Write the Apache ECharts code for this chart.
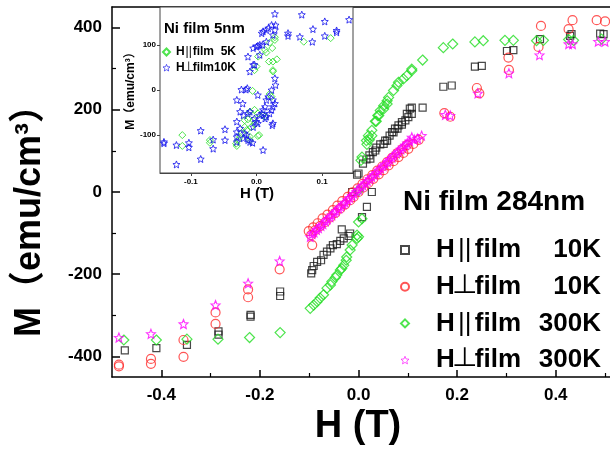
<!DOCTYPE html>
<html><head><meta charset="utf-8">
<script src="https://cdn.jsdelivr.net/npm/echarts@6/dist/echarts.min.js"></script>
<style>html,body{margin:0;padding:0;background:#fff}#c{width:610px;height:451px}</style>
</head><body><div id="c"></div>
<script>
// ---- main plot tick values ----
const xMajor = [-0.4, -0.2, 0.0, 0.2, 0.4];
const xMinor = [-0.3, -0.1, 0.1, 0.3, 0.5];
const yMajor = [-400, -200, 0, 200, 400];
const yMinor = [-300, -100, 100, 300];
// ---- inset tick values ----
const insetXTicks = [-0.1, 0.0, 0.1];
const insetYTicks = [-100, 0, 100];

// ---- Ni film 284nm : H|| film 10K ----
const par10K_H = [-0.474,-0.410,-0.348,-0.284,-0.284,-0.219,-0.219,-0.159,-0.159,
  -0.096,-0.094,-0.091,-0.084,-0.076,-0.071,-0.064,-0.057,-0.052,-0.044,-0.037,-0.030,-0.020,-0.017,-0.034,
  -0.013,-0.003,0.007,0.017,0.027,
  0.009,0.016,0.022,0.029,0.036,0.044,0.054,0.063,0.071,0.079,0.088,0.095,0.101,0.108,0.108,0.130,
  0.104,0.098,0.088,0.081,0.074,0.068,0.058,0.051,0.034,0.024,0.000,
  0.172,0.189,0.236,0.250,0.301,0.314,0.368,0.429,0.432,0.490,0.497];
const par10K_M = [-385,-380,-372,-339,-347,-299,-303,-242,-253,
  -198,-190,-180,-170,-166,-153,-145,-137,-129,-127,-119,-113,-107,-101,-91,
  0,42,-61,-36,0,
  69,79,89,97,108,116,125,137,145,154,164,174,182,190,205,205,
  203,190,170,162,154,146,125,117,101,81,45,
  256,259,305,307,343,345,372,380,384,385,384];

// ---- H⊥ film 10K ----
const perp10K_H = [-0.486,-0.486,-0.421,-0.421,-0.355,-0.355,-0.290,-0.290,-0.224,-0.224,-0.160,
  -0.094,-0.096,-0.088,-0.078,-0.067,-0.057,-0.047,-0.037,-0.027,-0.017,-0.010,0.000,0.010,0.020,0.030,0.041,0.051,0.061,0.071,0.081,0.091,0.101,0.111,0.122,
  -0.101,-0.092,-0.083,-0.073,-0.063,-0.052,-0.043,-0.033,-0.022,-0.012,-0.002,0.008,0.018,0.028,0.038,0.048,0.058,0.068,0.078,0.088,0.098,
  0.174,0.186,0.240,0.245,0.304,0.305,0.365,0.370,0.426,0.434,0.483,0.500];
const perp10K_M = [-420,-424,-406,-418,-401,-360,-293,-321,-237,-256,-188,
  -129,-105,-93,-83,-73,-62,-51,-40,-30,-20,-12,0,11,22,32,43,53,65,75,85,95,105,117,127,
  -95,-86,-76,-64,-55,-44,-33,-22,-12,-1,9,20,31,41,52,62,73,83,94,104,114,
  192,183,253,240,327,297,353,404,396,418,418,415];

// ---- H|| film 300K ----
const par300K_H = [-0.476,-0.410,-0.348,-0.285,-0.221,-0.159,
  -0.098,-0.091,-0.084,-0.078,-0.071,-0.064,-0.057,-0.054,-0.047,-0.044,-0.037,-0.034,-0.030,-0.025,-0.024,-0.017,-0.013,-0.003,0.000,-0.003,0.000,0.007,0.000,
  0.005,0.007,0.016,0.017,0.020,0.022,0.027,0.027,0.034,0.036,0.039,0.041,0.044,0.051,0.051,0.058,0.058,0.061,0.071,0.078,0.081,0.091,0.098,0.108,0.108,0.130,
  0.172,0.191,0.236,0.253,0.297,0.314,0.361,0.375,0.426,0.436,0.493];
const par300K_M = [-360,-360,-358,-358,-354,-342,
  -283,-275,-267,-258,-250,-234,-226,-218,-208,-202,-190,-186,-178,-166,-158,-141,-129,-113,-109,-105,-73,-65,4,
  77,85,125,116,137,127,150,137,172,172,186,186,198,202,210,214,222,230,247,259,267,275,283,295,299,321,
  351,360,365,368,369,369,368,369,371,369,372];

// ---- H⊥ film 300K ----
const perp300K_H = [-0.486,-0.421,-0.355,-0.290,-0.224,-0.160,
  -0.098,-0.090,-0.081,-0.072,-0.063,-0.054,-0.045,-0.036,-0.027,-0.018,-0.009,0.000,0.009,0.018,0.027,0.036,0.045,0.054,0.063,0.072,0.081,0.090,0.099,0.108,0.120,0.128,
  -0.094,-0.085,-0.076,-0.067,-0.058,-0.049,-0.040,-0.031,-0.022,-0.013,-0.004,0.005,0.014,0.023,0.032,0.041,0.050,0.059,0.068,0.077,0.086,0.095,0.104,0.113,
  0.176,0.186,0.242,0.305,0.367,0.426,0.434,0.486,0.500];
const perp300K_M = [-354,-345,-321,-275,-222,-168,
  -109,-98,-88,-78,-66,-56,-46,-35,-25,-14,-4,6,16,27,37,47,58,68,79,89,99,109,119,133,130,137,
  -102,-92,-82,-71,-61,-50,-40,-30,-19,-9,1,12,22,32,42,53,63,73,84,94,104,114,124,128,
  188,186,240,289,333,360,360,366,366];

// ---- inset: Ni film 5nm, H|| film 5K ----
const inPar5K_H = [-0.113,-0.113,-0.071,-0.071,-0.030,-0.031,-0.028,-0.025,-0.023,-0.015,
  -0.018,-0.008,-0.003,-0.005,-0.018,-0.013,-0.010,-0.010,-0.010,0.002,
  0.004,0.010,0.013,-0.003,0.002,0.020,0.023,-0.006,-0.003,0.000,
  0.0025,0.025,0.025,0.031,0.025,0.019,0.013,0.015,0.024,0.020,
  0.028,0.028,0.072,0.113];
const inPar5K_M = [-100,-124,-111,-117,-124,-119,-111,-104,-96,-89,
  -82,-82,-76,-67,-67,-65,-48,-104,-111,-102,
  -100,-56,-59,-44,-52,-9,-15,-2,44,52,
  74,44,41,68,63,63,89,83,93,105,
  117,111,107,115];

// ---- inset: H⊥ film 10K ----
const inPerp10K_H = [-0.141,-0.141,-0.122,-0.122,-0.103,-0.103,-0.085,-0.085,-0.066,-0.066,
  -0.048,-0.048,-0.030,-0.030,-0.030,-0.030,-0.030,-0.025,-0.025,-0.023,
  -0.016,-0.014,-0.021,-0.020,-0.013,-0.010,-0.018,-0.015,-0.020,-0.013,
  -0.010,-0.006,-0.003,0.000,0.002,-0.005,-0.013,-0.010,-0.005,-0.003,
  -0.005,0.000,0.002,0.005,0.008,0.010,0.015,0.018,0.009,0.005,
  0.015,0.023,0.025,0.028,0.029,0.028,0.028,0.029,0.010,0.069,
  0.066,0.086,0.085,0.048,0.048,0.104,0.104,0.122,0.122,0.141,
  0.023,0.025,0.018,0.015,0.013,0.010,0.008,0.005,0.013,0.015,
  0.020,0.023,0.025,0.028,0.025,0.024,0.002];
const inPerp10K_M = [-115,-118,-122,-165,-117,-127,-90,-153,-110,-130,
  -87,-111,-22,-70,-93,-104,-115,-48,-85,1,
  1,4,-30,-56,-52,-48,-96,-100,-107,-111,
  -115,-117,-63,-70,-74,-82,74,41,56,56,
  93,96,98,100,126,130,133,137,100,78,
  107,144,122,133,144,169,26,11,-133,167,
  118,135,107,126,120,152,120,132,128,156,
  0,-22,-15,-22,-37,-44,-52,-56,-63,-59,
  -52,-44,-37,-30,-74,-78,-11];

const F = "'Liberation Sans', Arial, 'Noto Sans CJK SC', 'DejaVu Sans', sans-serif";
const STAR = 'path://M100,0L126.5,63.6L195.1,69.1L142.8,113.9L158.8,180.9L100,145L41.2,180.9L57.2,113.9L4.9,69.1L73.5,63.6Z';
const pts = (h, m) => h.map((x, i) => [x, m[i]]);
const hollow = (c, w) => ({ color: 'rgba(0,0,0,0)', borderColor: c, borderWidth: w });

const legendParts = {
  par10K: ['||', '10K'], perp10K: ['\u22A5', '10K'],
  par300K: ['||', '300K'], perp300K: ['\u22A5', '300K'],
  inPar5K: ['||', '5K'], inPerp10K: ['\u22A5', '10K']
};
const fmt = name => { const p = legendParts[name]; return '{s|}{h|H}{p|' + p[0] + '}{f|film}{t|' + p[1] + '}'; };

const axisBase = (grid, min, max) => ({ gridIndex: grid, type: 'value', min: min, max: max, splitLine: { show: false } });
const blackLine = { show: true, onZero: false, lineStyle: { color: '#000', width: 1.5 } };

const chart = echarts.init(document.getElementById('c'), null, { renderer: 'canvas' });
chart.setOption({
  animation: false,
  backgroundColor: '#fff',
  grid: [
    { left: 112, top: 7, right: 0, bottom: 74, show: false },
    { left: 160, top: 7, width: 193, height: 166, show: true, backgroundColor: '#fff', borderColor: '#444', borderWidth: 1, z: 1 }
  ],
  xAxis: [
    Object.assign(axisBase(0, -0.5, 0.51), { interval: 0.1, position: 'bottom', axisLine: blackLine,
      axisTick: { show: true, inside: true, length: 7, customValues: xMajor, lineStyle: { color: '#000', width: 1.5 } },
      axisLabel: { customValues: xMajor, formatter: v => v.toFixed(1), fontSize: 17, fontWeight: 'bold', color: '#000', fontFamily: F, margin: 10 } }),
    Object.assign(axisBase(0, -0.5, 0.51), { interval: 0.1, position: 'bottom', axisLine: { show: false, onZero: false },
      axisTick: { show: true, inside: true, length: 4, customValues: xMinor, lineStyle: { color: '#000', width: 1.2 } },
      axisLabel: { show: false } }),
    Object.assign(axisBase(0, -0.5, 0.51), { interval: 0.1, position: 'top', axisLine: blackLine,
      axisTick: { show: false }, axisLabel: { show: false } }),
    Object.assign(axisBase(1, -0.147, 0.147), { position: 'bottom', axisLine: { show: true, onZero: false, lineStyle: { color: '#444', width: 1 } },
      axisTick: { show: true, inside: false, length: 3, customValues: insetXTicks, lineStyle: { color: '#444' } },
      axisLabel: { customValues: insetXTicks, formatter: v => v.toFixed(1), fontSize: 8, fontWeight: 'bold', color: '#000', fontFamily: F, margin: 5 } })
  ],
  yAxis: [
    Object.assign(axisBase(0, -450, 450), { interval: 50, position: 'left', axisLine: blackLine,
      axisTick: { show: true, inside: true, length: 8, customValues: yMajor, lineStyle: { color: '#000', width: 1.5 } },
      axisLabel: { customValues: yMajor, fontSize: 17, fontWeight: 'bold', color: '#000', fontFamily: F, margin: 10 } }),
    Object.assign(axisBase(0, -450, 450), { interval: 50, position: 'left', axisLine: { show: false, onZero: false },
      axisTick: { show: true, inside: true, length: 4, customValues: yMinor, lineStyle: { color: '#000', width: 1.2 } },
      axisLabel: { show: false } }),
    Object.assign(axisBase(1, -184, 184), { position: 'left', axisLine: { show: true, onZero: false, lineStyle: { color: '#444', width: 1 } },
      axisTick: { show: true, inside: false, length: 3, customValues: insetYTicks, lineStyle: { color: '#444' } },
      axisLabel: { customValues: insetYTicks, fontSize: 8, fontWeight: 'bold', color: '#000', fontFamily: F, margin: 4 } })
  ],
  legend: [
    { data: ['par10K', 'perp10K', 'par300K',
        { name: 'perp300K', itemStyle: { color: 'rgba(0,0,0,0)', borderColor: '#ff00ff', borderWidth: 0.8 } }],
      orient: 'vertical', left: 395, top: 232,
      itemWidth: 8, itemHeight: 8, itemGap: 10.7, selectedMode: false, formatter: fmt,
      textStyle: { color: '#000', fontFamily: F, fontSize: 26, fontWeight: 'bold',
        rich: {
          s: { width: 22 },
          h: { fontSize: 26, fontWeight: 'bold', fontFamily: F },
          p: { fontSize: 26, fontWeight: 'normal', fontFamily: F, width: 20, align: 'center' },
          f: { fontSize: 26, fontWeight: 'bold', fontFamily: F },
          t: { fontSize: 26, fontWeight: 'bold', fontFamily: F, width: 80, align: 'right' }
        } } },
    { data: ['inPar5K',
        { name: 'inPerp10K', itemStyle: { color: 'rgba(0,0,0,0)', borderColor: '#1010ee', borderWidth: 0.8 } }],
      orient: 'vertical', left: 157, top: 41,
      itemWidth: 7, itemHeight: 7, itemGap: 3.7, selectedMode: false, formatter: fmt,
      textStyle: { color: '#000', fontFamily: F, fontSize: 12, fontWeight: 'bold',
        rich: {
          s: { width: 1 },
          h: { fontSize: 12, fontWeight: 'bold', fontFamily: F },
          p: { fontSize: 12, fontWeight: 'normal', fontFamily: F, width: 8, align: 'center' },
          f: { fontSize: 12, fontWeight: 'bold', fontFamily: F },
          t: { fontSize: 12, fontWeight: 'bold', fontFamily: F, width: 22, align: 'right' }
        } } }
  ],
  series: [
    { name: 'par10K', type: 'scatter', xAxisIndex: 0, yAxisIndex: 0, symbol: 'rect', symbolSize: 7,
      itemStyle: hollow('#1a1a1a', 1.2), data: pts(par10K_H, par10K_M) },
    { name: 'perp10K', type: 'scatter', xAxisIndex: 0, yAxisIndex: 0, symbol: 'circle', symbolSize: 9,
      itemStyle: hollow('#ff2a2a', 1.2), data: pts(perp10K_H, perp10K_M) },
    { name: 'par300K', type: 'scatter', xAxisIndex: 0, yAxisIndex: 0, symbol: 'diamond', symbolSize: 10,
      itemStyle: hollow('#22dd22', 1.2), data: pts(par300K_H, par300K_M) },
    { name: 'perp300K', type: 'scatter', xAxisIndex: 0, yAxisIndex: 0, symbol: STAR, symbolSize: 9,
      itemStyle: hollow('#ff00ff', 1.1), data: pts(perp300K_H, perp300K_M) },
    { name: 'inPar5K', type: 'scatter', xAxisIndex: 3, yAxisIndex: 2, symbol: 'diamond', symbolSize: 7, z: 3,
      itemStyle: hollow('#22dd22', 1), data: pts(inPar5K_H, inPar5K_M) },
    { name: 'inPerp10K', type: 'scatter', xAxisIndex: 3, yAxisIndex: 2, symbol: STAR, symbolSize: 7, z: 3,
      itemStyle: hollow('#1010ee', 1), data: pts(inPerp10K_H, inPerp10K_M) }
  ],
  graphic: [
    { type: 'text', x: 403, y: 202, style: { text: 'Ni film 284nm', font: 'bold 28px ' + F, fill: '#000', textAlign: 'left', align: 'left', textVerticalAlign: 'middle', verticalAlign: 'middle' } },
    { type: 'text', x: 358, y: 427, style: { text: 'H (T)', font: 'bold 38px ' + F, fill: '#000', textAlign: 'center', align: 'center', textVerticalAlign: 'middle', verticalAlign: 'middle' } },
    { type: 'text', x: 30, y: 212, rotation: Math.PI / 2, style: { text: 'M（emu/cm³）', font: 'bold 36px ' + F, fill: '#000', textAlign: 'center', align: 'center', textVerticalAlign: 'middle', verticalAlign: 'middle' } },
    { type: 'text', x: 164, y: 29, z: 10, style: { text: 'Ni film 5nm', font: 'bold 15px ' + F, fill: '#000', textAlign: 'left', align: 'left', textVerticalAlign: 'middle', verticalAlign: 'middle' } },
    { type: 'text', x: 257, y: 194, style: { text: 'H (T)', font: 'bold 15px ' + F, fill: '#000', textAlign: 'center', align: 'center', textVerticalAlign: 'middle', verticalAlign: 'middle' } },
    { type: 'text', x: 131, y: 88, rotation: Math.PI / 2, style: { text: 'M（emu/cm³）', font: 'bold 12px ' + F, fill: '#000', textAlign: 'center', align: 'center', textVerticalAlign: 'middle', verticalAlign: 'middle' } }
  ]
});
</script></body></html>
